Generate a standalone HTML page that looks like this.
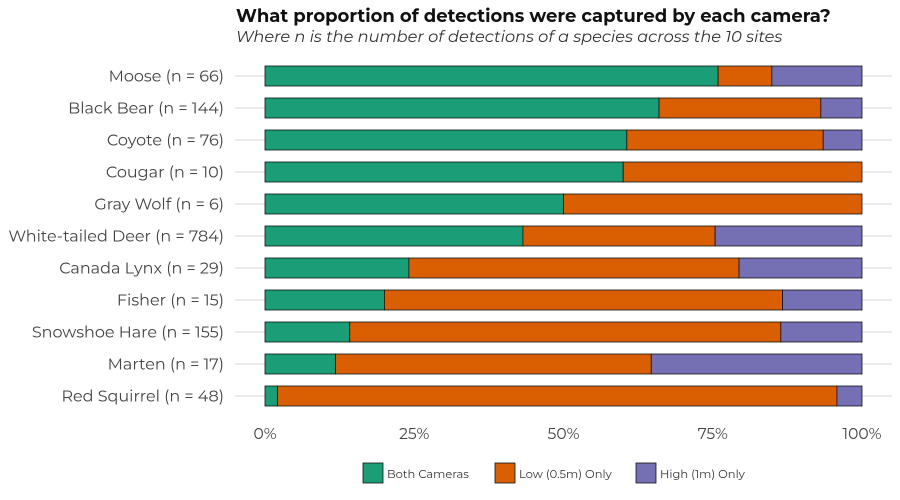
<!DOCTYPE html>
<html><head><meta charset="utf-8"><style>
body{margin:0;background:#fff;}
svg{display:block;font-family:"Montserrat","Liberation Sans",sans-serif;}
</style></head><body>
<svg id="chart" width="900" height="500">
<text x="236" y="22" font-size="18" font-weight="bold" fill="#111">What proportion of detections were captured by each camera?</text>
<text x="236" y="42" font-size="16.2" font-style="italic" fill="#333">Where n is the number of detections of a species across the 10 sites</text>
<g id="grid"></g><g id="bars"></g><g id="labels"></g><g id="xticks"></g><g id="legend"></g>
</svg>
<script>
const categories=["Moose (n = 66)","Black Bear (n = 144)","Coyote (n = 76)","Cougar (n = 10)","Gray Wolf (n = 6)","White-tailed Deer (n = 784)","Canada Lynx (n = 29)","Fisher (n = 15)","Snowshoe Hare (n = 155)","Marten (n = 17)","Red Squirrel (n = 48)"];
const bothCameras=[0.759,0.66,0.606,0.60,0.50,0.432,0.241,0.20,0.142,0.118,0.021];
const lowOnly=[0.090,0.271,0.329,0.40,0.50,0.322,0.553,0.667,0.722,0.529,0.937];
const highOnly=[0.151,0.069,0.065,0.0,0.0,0.246,0.206,0.133,0.136,0.353,0.042];
const tickValues=[0,0.25,0.5,0.75,1];
const tickLabels=["0%","25%","50%","75%","100%"];
const seriesNames=["Both Cameras","Low (0.5m) Only","High (1m) Only"];
const colors=["#1b9e77","#d95f02","#7570b3"];
const NS="http://www.w3.org/2000/svg";
const x=v=>265+v*597;
const y=i=>76+i*32;
function mk(tag,attrs,parent,text){const e=document.createElementNS(NS,tag);for(const k in attrs)e.setAttribute(k,attrs[k]);if(text!==undefined)e.textContent=text;document.getElementById(parent).appendChild(e);return e;}
const series=[bothCameras,lowOnly,highOnly];
const keys=["both-cameras","low-only","high-only"];
categories.forEach((c,i)=>{
  const g=mk("line",{x1:235,x2:892,y1:y(i),y2:y(i),stroke:"#d9d9d9","stroke-width":1},"grid");
  
  
  const t=mk("text",{x:224,y:y(i)+5.5,"text-anchor":"end","font-size":16,fill:"#444"},"labels",c);
  
  
  let acc=0;
  series.forEach((s,k)=>{
    if(s[i]<=0)return;
    const r=mk("rect",{x:x(acc),y:y(i)-10,width:x(acc+s[i])-x(acc),height:20,fill:colors[k],stroke:"#111","stroke-width":0.8},"bars");
    
    
    acc+=s[i];
  });
});
tickValues.forEach((v,i)=>{
  const t=mk("text",{x:x(v),y:439,"text-anchor":"middle","font-size":15.5,fill:"#444"},"xticks",tickLabels[i]);
  
  
});
const lx=[363,495,636];
seriesNames.forEach((n,k)=>{
  const r=mk("rect",{x:lx[k],y:463,width:20,height:20,fill:colors[k],stroke:"#111","stroke-width":0.8},"legend");
  
  
  const t=mk("text",{x:lx[k]+24,y:478,"font-size":11.5,fill:"#333"},"legend",n);
  
  
});
</script>
</body></html>
